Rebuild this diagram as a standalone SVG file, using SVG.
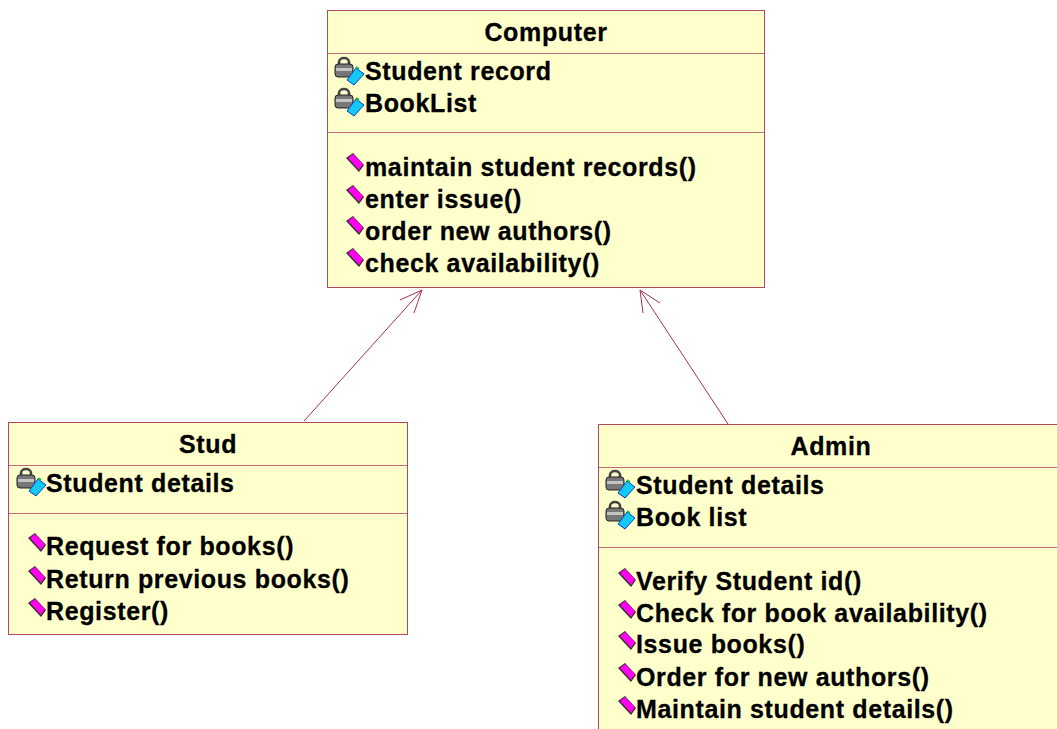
<svg xmlns="http://www.w3.org/2000/svg" width="1057" height="729" viewBox="0 0 1057 729">
<style>
.box{fill:#ffffcc;stroke:#b5475f;stroke-width:1}
.div{stroke:#c06a7c;stroke-width:1}
.conn{fill:none;stroke:#a8324f;stroke-width:1}
text{font-family:"Liberation Sans",Arial,sans-serif;font-weight:bold;font-size:25px;letter-spacing:.63px;fill:#000;stroke:#000;stroke-width:.3}
.t{text-anchor:middle}
</style>
<defs>
<g id="priv">
<path d="M4 8V5a5 4 0 0 1 10 0V8" fill="none" stroke="#444" stroke-width="2.6"/>
<rect x="0" y="7" width="18" height="13" rx="3" fill="#777" stroke="#222"/>
<rect x="1" y="11" width="16" height="3" fill="#c4c4c4"/>
<path d="M12 23L21 11L29 17L19 28z" fill="#14c8f8" stroke="#0a3fc0"/>
<path d="M21 10l3 2" stroke="#10c040" stroke-width="2"/>
</g>
<g id="pub"><path d="M-1 3L6 -2L17 10L12 17z" fill="#303030"/><path d="M1 3L6 -1L16 9L12 15z" fill="#ff00f0"/></g>
</defs>
<g id="connectors">
<path class="conn" d="M304 421L422 290M400 300L422 290L414 313"/>
<path class="conn" d="M728 424L640 290M643 313L640 290L660 303"/>
</g>
<g id="computer">
<rect class="box" x="327.500" y="10.500" width="437" height="277"/>
<path class="div" d="M328 53.500H764M328 132.500H764"/>
<text class="t" x="546" y="41">Computer</text>
<use href="#priv" x="335" y="57"/><text x="365" y="80">Student record</text>
<use href="#priv" x="335" y="88"/><text x="365" y="112">BookList</text>
<use href="#pub" x="347" y="155"/><text x="365" y="176">maintain student records()</text>
<use href="#pub" x="347" y="187"/><text x="365" y="208">enter issue()</text>
<use href="#pub" x="347" y="218"/><text x="365" y="240">order new authors()</text>
<use href="#pub" x="347" y="250"/><text x="365" y="272">check availability()</text>
</g>
<g id="stud">
<rect class="box" x="8.500" y="422.500" width="399" height="212"/>
<path class="div" d="M9 465.500H407M9 513.500H407"/>
<text class="t" x="208" y="453">Stud</text>
<use href="#priv" x="17" y="468"/><text x="46" y="492">Student details</text>
<use href="#pub" x="29" y="535"/><text x="46" y="555">Request for books()</text>
<use href="#pub" x="29" y="568"/><text x="46" y="588">Return previous books()</text>
<use href="#pub" x="29" y="600"/><text x="46" y="620">Register()</text>
</g>
<g id="admin">
<path d="M599 425H1057V729H599z" fill="#ffffcc"/>
<path class="box" style="fill:none" d="M1057 424.500H598.500V729"/>
<path class="div" d="M599 467.500H1057M599 547.500H1057"/>
<text class="t" x="831" y="455">Admin</text>
<use href="#priv" x="606" y="470"/><text x="636" y="494">Student details</text>
<use href="#priv" x="606" y="501"/><text x="636" y="526">Book list</text>
<use href="#pub" x="619" y="570"/><text x="636" y="590">Verify Student id()</text>
<use href="#pub" x="619" y="602"/><text x="636" y="622">Check for book availability()</text>
<use href="#pub" x="619" y="633"/><text x="636" y="653">Issue books()</text>
<use href="#pub" x="619" y="665"/><text x="636" y="686">Order for new authors()</text>
<use href="#pub" x="619" y="698"/><text x="636" y="718">Maintain student details()</text>
</g>
</svg>
